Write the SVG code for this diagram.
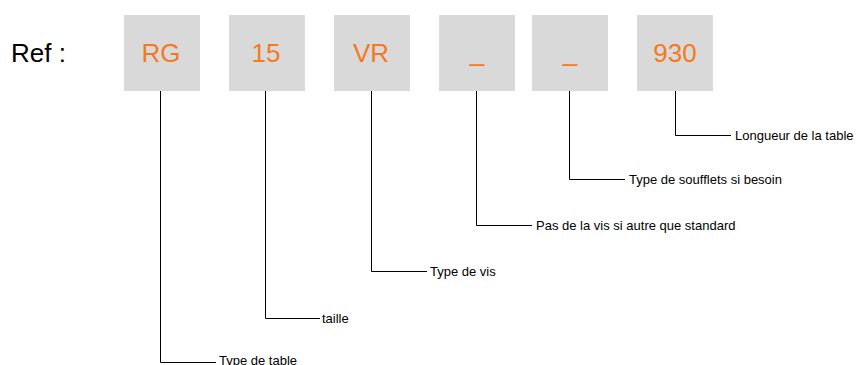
<svg xmlns="http://www.w3.org/2000/svg" width="858" height="365" viewBox="0 0 858 365">
<style>
.box{fill:#D9D9D9}
.code{font-family:"Liberation Sans",Arial,sans-serif;font-size:26px;fill:#F47920;text-anchor:middle}
.lbl{font-family:"Liberation Sans",Arial,sans-serif;font-size:13px;fill:#000}
.ref{font-family:"Liberation Sans",Arial,sans-serif;font-size:26px;fill:#000}
.conn{fill:none;stroke:#000;stroke-width:1}
</style>
<rect width="858" height="365" fill="#fff"/>
<text class="ref" x="11" y="62">Ref :</text>
<g id="n-rg"><rect class="box" x="124" y="15" width="76" height="76"/><text class="code" x="161" y="62">RG</text></g>
<g id="n-15"><rect class="box" x="229" y="15" width="76" height="76"/><text class="code" x="266" y="62">15</text></g>
<g id="n-vr"><rect class="box" x="334" y="15" width="76" height="76"/><text class="code" x="371" y="62">VR</text></g>
<g id="n-p"><rect class="box" x="439" y="15" width="76" height="76"/><text class="code" x="477" y="61">_</text></g>
<g id="n-s"><rect class="box" x="532" y="15" width="76" height="76"/><text class="code" x="570" y="61">_</text></g>
<g id="n-930"><rect class="box" x="637" y="15" width="76" height="76"/><text class="code" x="675" y="62">930</text></g>
<g id="connectors">
<polyline class="conn" points="160.5,91 160.5,362.5 216,362.5"/>
<polyline class="conn" points="265.5,91 265.5,318.5 320,318.5"/>
<polyline class="conn" points="371.5,91 371.5,271.5 427,271.5"/>
<polyline class="conn" points="476.5,91 476.5,225.5 532,225.5"/>
<polyline class="conn" points="569.5,91 569.5,179.5 625,179.5"/>
<polyline class="conn" points="675.5,91 675.5,135.5 731,135.5"/>
</g>
<g id="labels">
<text class="lbl" x="219" y="364.5">Type de table</text>
<text class="lbl" x="322" y="323">taille</text>
<text class="lbl" x="430" y="276">Type de vis</text>
<text class="lbl" x="536" y="230">Pas de la vis si autre que standard</text>
<text class="lbl" x="629" y="184">Type de soufflets si besoin</text>
<text class="lbl" x="735" y="140">Longueur de la table</text>
</g>
</svg>
